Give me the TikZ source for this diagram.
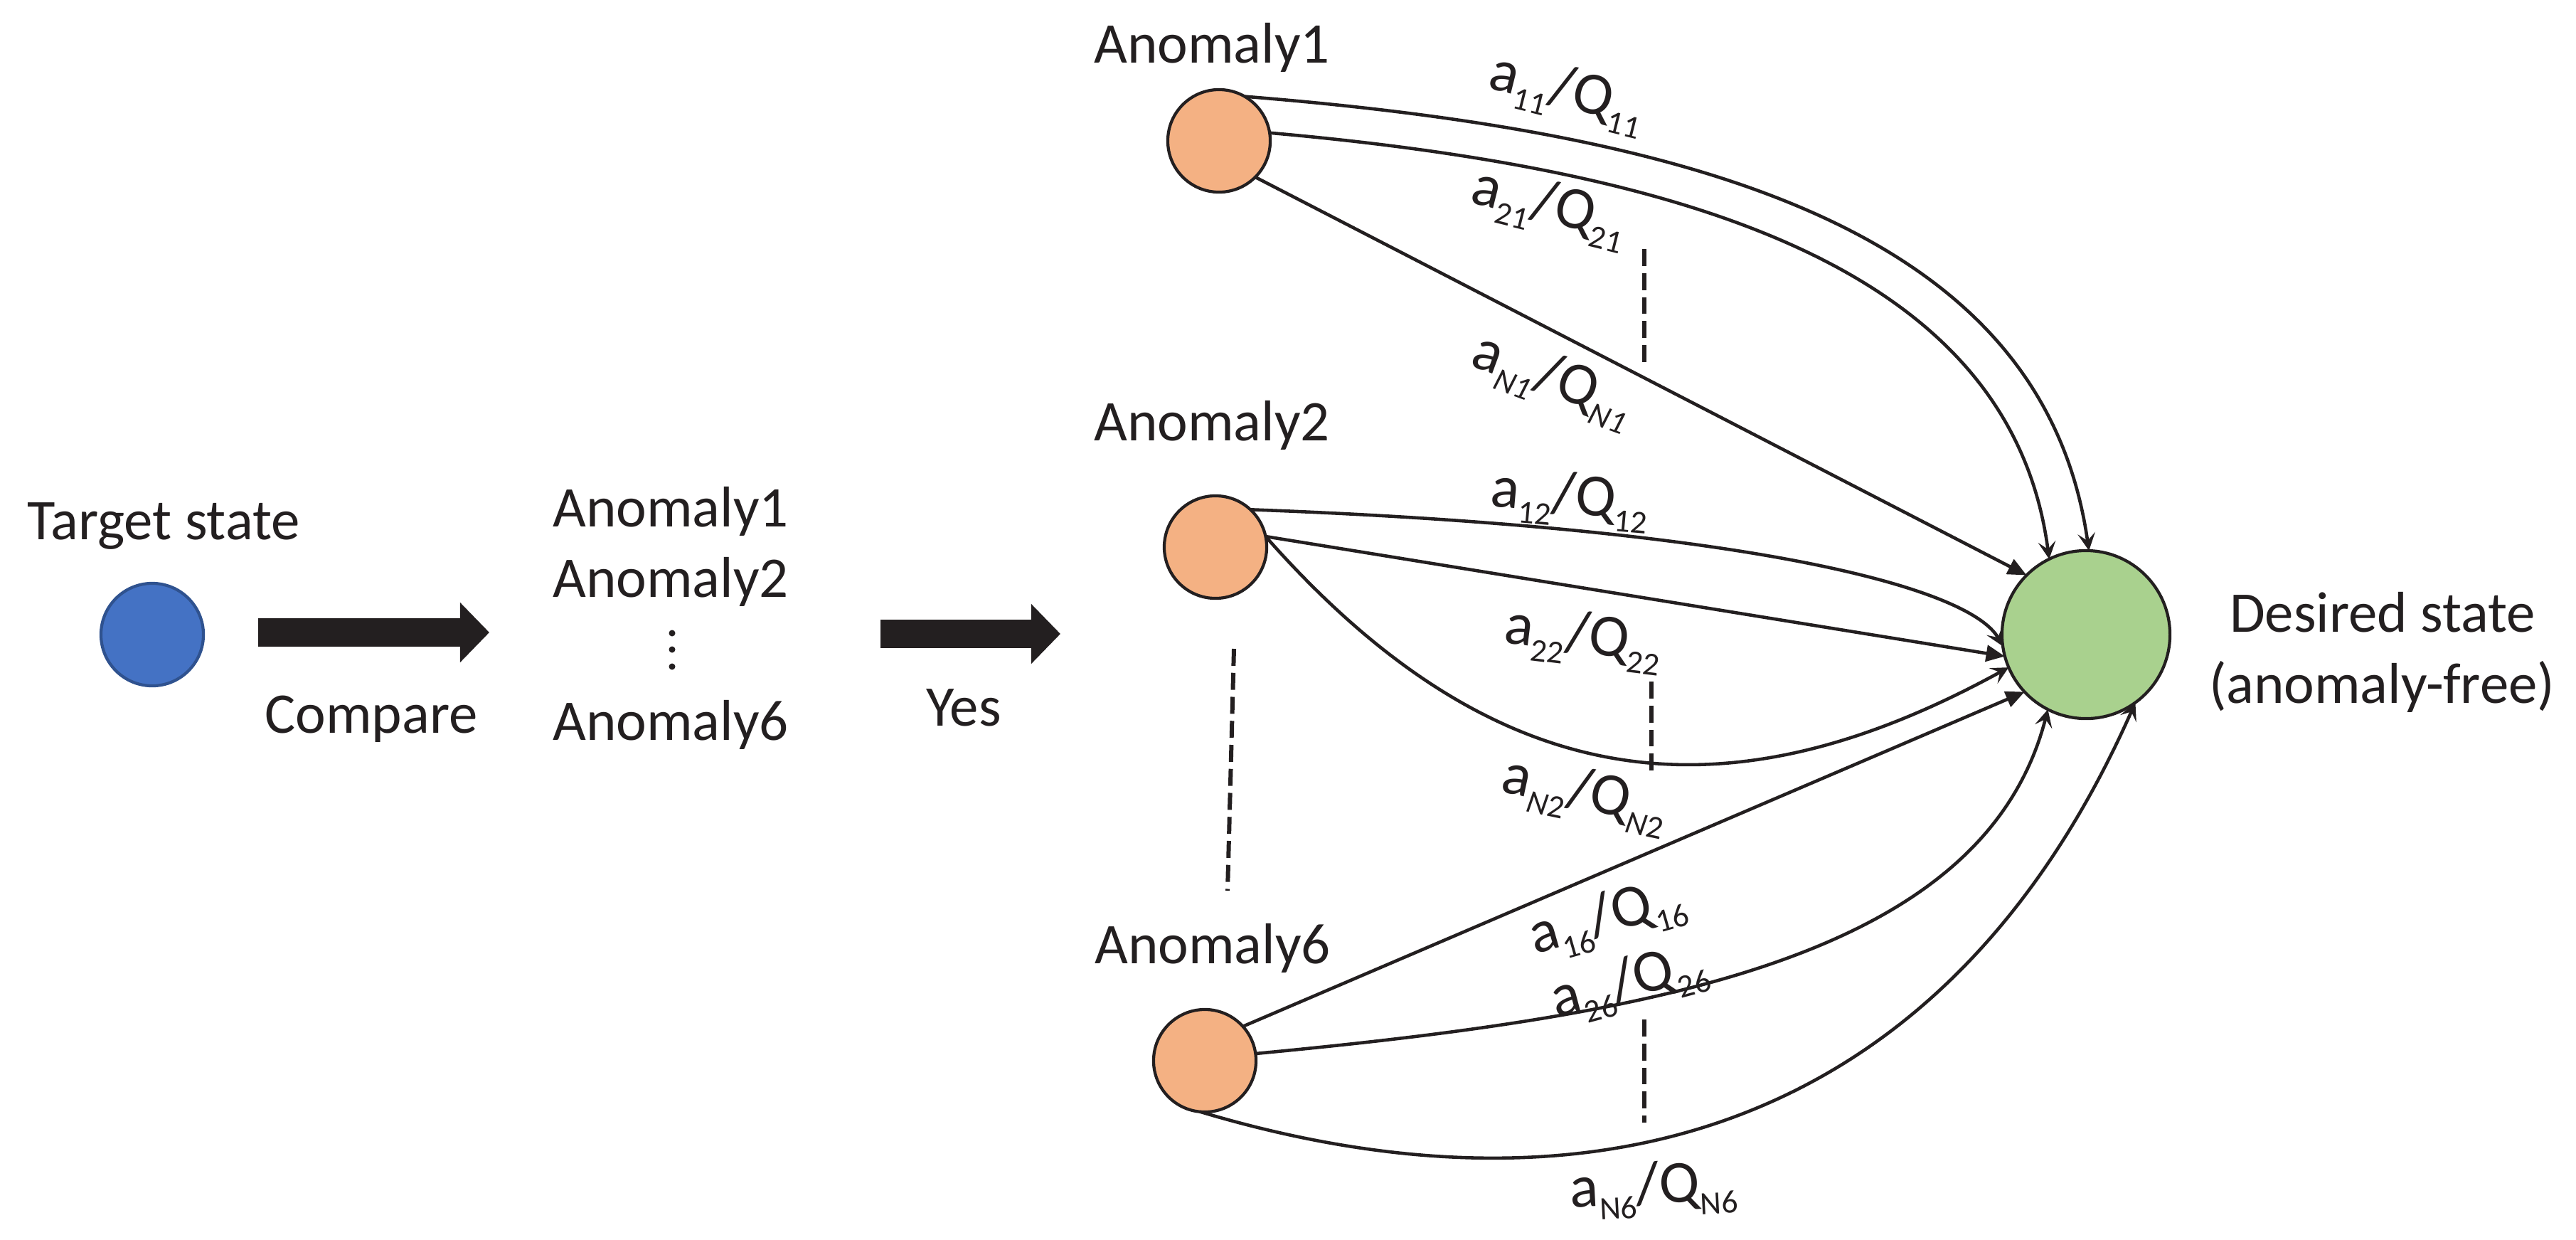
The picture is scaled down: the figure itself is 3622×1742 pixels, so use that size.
\documentclass[tikz,border=0pt]{standalone}
\usepackage{fontspec}
\setmainfont{Carlito}
\usetikzlibrary{arrows.meta}
\definecolor{ink}{HTML}{231F20}
\definecolor{anomfill}{HTML}{F4B183}
\definecolor{goodfill}{HTML}{A9D18E}
\definecolor{tgtfill}{HTML}{4472C4}
\definecolor{tgtline}{HTML}{2F528F}
\newcommand{\lsb}[1]{\raisebox{-5.5pt}{\fontsize{13pt}{13pt}\selectfont #1}}
\begin{document}
\begin{tikzpicture}[x=0.01cm,y=-0.01cm,
  txt/.style={font=\fontsize{23pt}{28pt}\selectfont, text=ink, inner sep=0pt, anchor=base},
  lab/.style={font=\fontsize{24pt}{28pt}\selectfont, text=ink, inner sep=0pt},
  state/.style={circle, draw=ink, line width=1.2pt, inner sep=0pt, outer sep=0pt, minimum size=1.44cm},
  anom/.style={state, fill=anomfill},
  conn/.style={draw=ink, line width=1.3pt},
  curvetip/.style={conn, -{Stealth[length=7pt,width=7pt,inset=3pt]}},
  linetip/.style={conn, -{Triangle[length=7.5pt,width=6.5pt]}},
  dashline/.style={draw=ink, line width=1.7pt, dash pattern=on 6.8pt off 2.8pt},
  blockarrow/.style={draw=ink, line width=11.4pt, -{Triangle[length=11.7pt,width=23.3pt]}},
  dotmark/.style={circle, fill=ink, inner sep=0pt, minimum size=0.09cm}
]
\useasboundingbox (0,0) rectangle (3622,1742);

% states
\node[state, draw=tgtline, fill=tgtfill] (T) at (214,892) {};
\node[anom] (A1) at (1714,198) {};
\node[anom] (A2) at (1709,769) {};
\node[anom] (A6) at (1694,1491) {};
\node[state, fill=goodfill, minimum size=2.36cm] (G) at (2933,892) {};

% texts
\node[txt] (tT) at (230,758) {Target state};
\node[txt] (tCmp) at (522,1030) {Compare};
\node[txt] (tL1) at (943,740) {Anomaly1};
\node[txt] (tL2) at (943,839) {Anomaly2};
\node[dotmark] (d1) at (945,890) {};
\node[dotmark] (d2) at (945,913) {};
\node[dotmark] (d3) at (945,937) {};
\node[txt] (tL6) at (943,1040) {Anomaly6};
\node[txt] (tYes) at (1355,1020) {Yes};
\node[txt] (tA1) at (1704,88) {Anomaly1};
\node[txt] (tA2) at (1704,619) {Anomaly2};
\node[txt] (tA6) at (1705,1354) {Anomaly6};
\node[txt] (tD1) at (3350,888) {Desired state};
\node[txt] (tD2) at (3349,988) {(anomaly-free)};

% block arrows
\coordinate (b1s) at (363,889);
\coordinate (b1e) at (688,889);
\coordinate (b2s) at (1238,891);
\coordinate (b2e) at (1491,891);
\draw[blockarrow] (b1s) -- (b1e);
\draw[blockarrow] (b2s) -- (b2e);

% connectors from Anomaly1
\draw[curvetip] (A1.60) .. controls (2405,188) and (2874,330) .. (G.88);
\draw[curvetip] (A1.9) .. controls (2387,240) and (2828,382) .. (G.116);
\draw[linetip] (A1.-45) -- (G.135);
% connectors from Anomaly2
\draw[curvetip] (A2.47) .. controls (2455,742) and (2770,825) .. (G.188);
\draw[linetip] (A2.12) -- (G.195);
\draw[curvetip] (A2.12) .. controls (2111,1130) and (2436,1151) .. (G.203);
% connectors from Anomaly6
\draw[linetip] (A6.42) -- (G.223);
\draw[curvetip] (A6.8) .. controls (2324,1428) and (2789,1348) .. (G.243);
\draw[curvetip] (A6.265) .. controls (2239,1728) and (2735,1592) .. (G.306);

% dashed separators
\coordinate (k1a) at (2312,350); \coordinate (k1b) at (2312,511);
\coordinate (k2a) at (2322,958); \coordinate (k2b) at (2322,1093);
\coordinate (k3a) at (2312,1433); \coordinate (k3b) at (2312,1578);
\coordinate (k4a) at (1735,912); \coordinate (k4b) at (1726,1252);
\draw[dashline] (k1a) -- (k1b);
\draw[dashline] (k2a) -- (k2b);
\draw[dashline] (k3a) -- (k3b);
\draw[dashline] (k4a) -- (k4b);

% labels
\node[lab, rotate=-14] (l11) at (2203,131) {a\lsb{11}/Q\lsb{11}};
\node[lab, rotate=-14] (l21) at (2178,292) {a\lsb{21}/Q\lsb{21}};
\node[lab, rotate=-20] (lN1) at (2183,535) {a\lsb{\textit{N1}}/Q\lsb{\textit{N1}}};
\node[lab, rotate=-5] (l12) at (2207,702) {a\lsb{12}/Q\lsb{12}};
\node[lab, rotate=-7] (l22) at (2226,898) {a\lsb{22}/Q\lsb{22}};
\node[lab, rotate=-12] (lN2) at (2228,1118) {a\lsb{\textit{N}2}/Q\lsb{\textit{N}2}};
\node[lab, rotate=16] (l16) at (2260,1292) {a\lsb{16}/Q\lsb{16}};
\node[lab, rotate=15] (l26) at (2291,1383) {a\lsb{26}/Q\lsb{26}};
\node[lab, rotate=3] (lN6) at (2325,1672) {a\lsb{N6}/Q\lsb{N6}};
\end{tikzpicture}
\end{document}
